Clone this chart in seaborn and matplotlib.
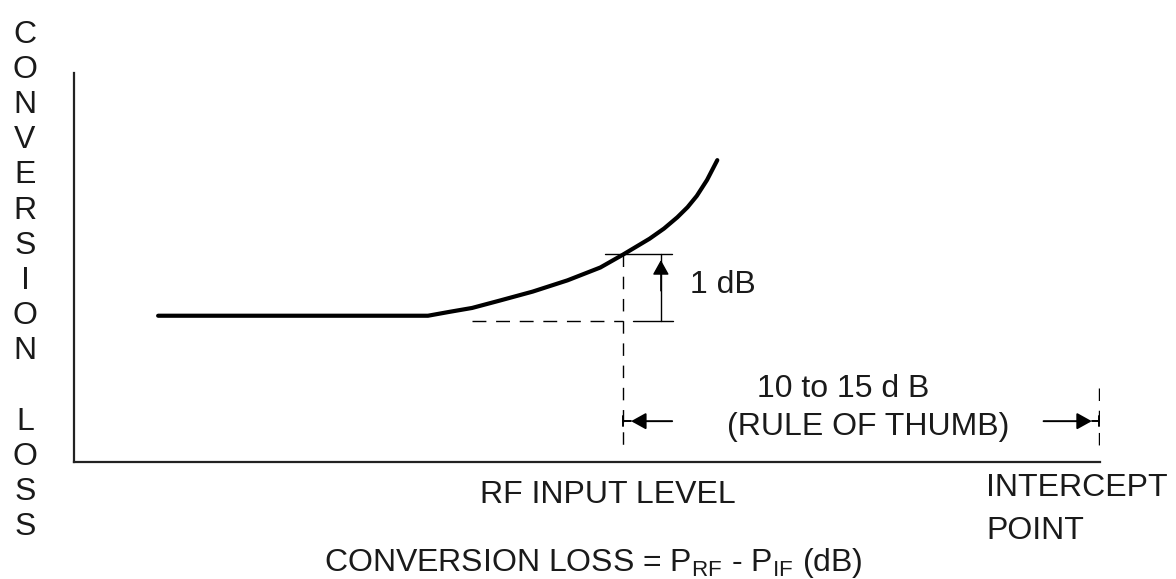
import matplotlib
matplotlib.use("Agg")
import matplotlib.pyplot as plt
import pandas as pd
import seaborn as sns

# conversion loss curve (arbitrary units, 0-100 on both axes)
rf_level = [8.2, 34.5, 36.6, 38.8, 41.5, 44.7, 48.1, 51.3, 53.5, 56.1, 57.5,
            58.8, 59.8, 60.7, 61.7, 62.7]
conv_loss = [37.6, 37.6, 38.6, 39.6, 41.5, 43.8, 46.7, 50.0, 53.3, 57.4, 60.0,
             62.9, 65.5, 68.4, 72.5, 77.6]

# 1 dB compression point, small-signal loss level and intercept point
p1db_x = 53.5
p1db_loss = 53.5
small_signal_loss = 36.3
intercept_x = 99.9

y_label = "CONVERSION LOSS"
x_label = "RF INPUT LEVEL"
formula = r"CONVERSION LOSS = P$_{\mathregular{RF}}$ - P$_{\mathregular{IF}}$ (dB)"

sns.set_style("white")
plt.rcParams['font.family'] = ['Liberation Sans', 'DejaVu Sans']
plt.rcParams['mathtext.fontset'] = 'custom'
plt.rcParams['mathtext.rm'] = 'Liberation Sans'

ink = '#1a1a1a'
fs = 23

fig = plt.figure(figsize=(11.76, 5.79), dpi=100)
ax = fig.add_axes([74 / 1176, 117 / 579, 1026 / 1176, 389 / 579])

df = pd.DataFrame({'rf': rf_level, 'loss': conv_loss})
sns.lineplot(data=df, x='rf', y='loss', ax=ax, color='black', lw=3.0, sort=False)

ax.set_xlim(0, 100)
ax.set_ylim(0, 100)
ax.set_xticks([])
ax.set_yticks([])
ax.set_xlabel('')
ax.set_ylabel('')
for s in ['top', 'right']:
    ax.spines[s].set_visible(False)
for s in ['left', 'bottom']:
    ax.spines[s].set_color('#222222')
    ax.spines[s].set_linewidth(1.6)

dash = (0, (10, 7))
thin = 1.0

# 1 dB marker
ax.plot([38.8, p1db_x], [small_signal_loss, small_signal_loss], color='black', lw=thin, ls=dash)
ax.plot([54.5, 58.4], [small_signal_loss, small_signal_loss], color='black', lw=thin)
ax.plot([51.8, 58.3], [p1db_loss, p1db_loss], color='black', lw=thin)
ax.plot([p1db_x, p1db_x], [p1db_loss, 2.3], color='black', lw=thin, ls=(0, (9, 7)))
ax.plot([57.2, 57.2], [small_signal_loss, p1db_loss], color='black', lw=thin)
ax.annotate('', xy=(57.2, 51.9), xytext=(57.2, 44),
            arrowprops=dict(arrowstyle='-|>,head_length=0.45,head_width=0.25',
                            mutation_scale=20, color='black', lw=thin,
                            shrinkA=0, shrinkB=0))
ax.text(60.0, 43.4, '1 dB', fontsize=fs, color=ink, ha='left', va='baseline')

# rule of thumb span to the intercept point
ax.plot([intercept_x, intercept_x], [19.0, 3.1], color='black', lw=thin, ls=(0, (9, 7)))
span_y = 10.5
for x0, x1, xe in [(58.3, 54.3, p1db_x), (94.5, 99.2, intercept_x)]:
    ax.annotate('', xy=(x1, span_y), xytext=(x0, span_y),
                arrowprops=dict(arrowstyle='-|>,head_length=0.45,head_width=0.25',
                                mutation_scale=20, color='black', lw=1.4,
                                shrinkA=0, shrinkB=0))
    ax.plot([x1, xe], [span_y, span_y], color='black', lw=1.4)
    ax.plot([xe, xe], [span_y - 1.3, span_y + 1.3], color='black', lw=1.4)

ax.text(66.6, 16.7, '10 to 15 d B', fontsize=fs, color=ink, ha='left', va='baseline')
ax.text(77.4, 6.9, '(RULE OF THUMB)', fontsize=fs, color=ink, ha='center', va='baseline')

# labels below the axis
ax.text(52.0, -10.6, x_label, fontsize=fs, color=ink, ha='center', va='baseline')
ax.text(88.9, -19.7, 'INTERCEPT\nPOINT', fontsize=fs, color=ink, ha='left',
        va='baseline', linespacing=1.55)
ax.text(50.6, -28.0, formula, fontsize=fs, color=ink, ha='center', va='baseline')

# stacked vertical axis title
fig.text(25 / 1176, 1 - 281 / 579, '\n'.join(y_label), fontsize=fs, color=ink,
         ha='center', va='center', multialignment='center', linespacing=1.225)

fig.savefig('out.png', dpi=100)
